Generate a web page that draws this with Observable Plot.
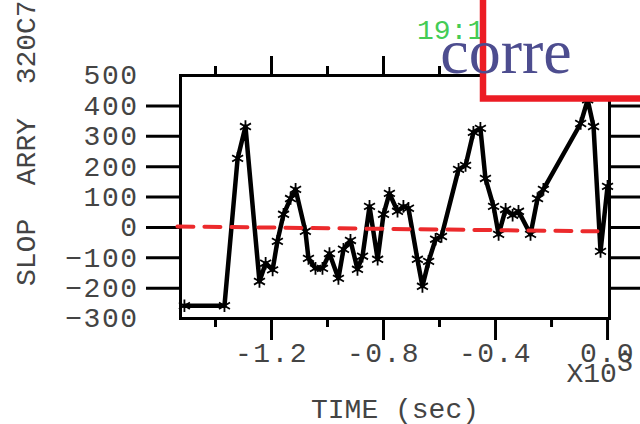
<!DOCTYPE html>
<html>
<head>
<meta charset="utf-8">
<script src="https://cdn.jsdelivr.net/npm/d3@7"></script>
<script src="https://cdn.jsdelivr.net/npm/@observablehq/plot@0.6"></script>
<style>
  html, body { margin: 0; padding: 0; background: #fff; }
  #chart svg g[aria-label$="tick label"] text { letter-spacing: 1.5px; }
</style>
</head>
<body>
<div id="chart"></div>
<script>
// Slope array samples: time before the event (seconds) and slope value
const timeSec = [
  -1511, -1368, -1321, -1293, -1243, -1221, -1196, -1179, -1157, -1132,
  -1114, -1079, -1068, -1043, -1018, -993, -961, -943, -918, -893,
  -875, -850, -821, -800, -779, -750, -729, -711, -679, -661,
  -639, -614, -593, -532, -507, -479, -454, -436, -407, -389,
  -364, -339, -318, -275, -250, -229, -96, -71, -50, -25, 0
];
const slope = [
  -258, -258, 227, 332, -178, -118, -140, -46, 43, 95,
  125, -13, -102, -135, -135, -86, -168, -72, -43, -138,
  -95, 69, -105, 43, 112, 53, 69, 63, -105, -194,
  -112, -39, -30, 191, 204, 313, 326, 161, 69, -23,
  59, 40, 53, -23, 95, 125, 342, 420, 332, -79, 135
];

// Least-squares trend drawn as the red dashed line
const fitTime = [-1536, -36];
const fitSlope = [3, -13];

// Axis ticks
const xMajorTicks = [-1200, -800, -400, 0];
const xMinorTicks = [-1400, -1000, -600, -200];
const yTickLabels = [-300, -200, -100, 0, 100, 200, 300, 400, 500];
const yTickMarks = [-200, -100, 0, 100, 200, 300, 400];

// Text
const yTitle = "SLOP  ARRY  320C7";
const xTitle = "TIME (sec)";
const xScaleNote = "X10";
const xScaleExp = "3";
const timeStamp = "19:1";
const boxText = "corre";

const points = timeSec.map((t, i) => ({t, v: slope[i]}));
const trend = fitTime.map((t, i) => ({t, v: fitSlope[i]}));

const mono = "'Liberation Mono', 'DejaVu Sans Mono', monospace";
const labelGray = "#444";
const tickStyle = {stroke: "black", strokeWidth: 3, fill: "none", label: null};

const chart = Plot.plot({
  width: 640,
  height: 424,
  marginLeft: 180,
  marginRight: 31,
  marginTop: 75,
  marginBottom: 106,
  style: {fontFamily: mono, fontSize: "28px", color: labelGray, background: "#fff", overflow: "visible"},
  x: {domain: [-1525, 7], label: null},
  y: {domain: [-300, 500], label: null},
  marks: [
    // left axis: labels, then long tick marks
    Plot.axisY({anchor: "left", ticks: yTickLabels, tickSize: 0, tickPadding: 42,
      fontSize: 28, fill: labelGray, label: null}),
    Plot.axisY({anchor: "left", ticks: yTickMarks, tickSize: 34, ...tickStyle}),
    Plot.axisY({anchor: "right", ticks: yTickMarks, tickSize: 34, ...tickStyle}),
    // bottom axis
    Plot.axisX({anchor: "bottom", ticks: xMajorTicks, tickSize: 22, tickPadding: 2,
      tickFormat: d => (d / 1000).toFixed(1), fontSize: 28, fill: labelGray,
      stroke: "black", strokeWidth: 3, label: null}),
    Plot.axisX({anchor: "bottom", ticks: xMinorTicks, tickSize: 9, ...tickStyle}),
    // top axis
    Plot.axisX({anchor: "top", ticks: xMajorTicks, tickSize: 20, ...tickStyle}),
    Plot.axisX({anchor: "top", ticks: xMinorTicks, tickSize: 10, ...tickStyle}),
    Plot.frame({stroke: "black", strokeWidth: 3}),
    // slope series with asterisk markers
    Plot.line(points, {x: "t", y: "v", stroke: "black", strokeWidth: 4.5, strokeLinejoin: "round"}),
    Plot.dot(points, {x: "t", y: "v", symbol: "asterisk", r: 6, stroke: "black", strokeWidth: 1.8}),
    // trend
    Plot.line(trend, {x: "t", y: "v", stroke: "#ec2a2c", strokeWidth: 4, strokeDasharray: "16,11"}),
    // axis titles and scale note
    Plot.text([xTitle], {frameAnchor: "bottom", textAnchor: "middle", lineAnchor: "bottom",
      dy: 99, fontSize: 28, fill: labelGray, style: "letter-spacing:1.5px"}),
    Plot.text([yTitle], {frameAnchor: "left", textAnchor: "start", lineAnchor: "bottom",
      rotate: -90, dx: -146, dy: 89, fontSize: 28, fill: labelGray}),
    Plot.text([xScaleNote], {frameAnchor: "bottom-right", textAnchor: "start", lineAnchor: "bottom",
      dx: -43, dy: 63, fontSize: 28, fill: labelGray}),
    Plot.text([xScaleExp], {frameAnchor: "bottom-right", textAnchor: "start", lineAnchor: "bottom",
      dx: 7, dy: 52, fontSize: 28, fill: labelGray}),
    Plot.text([timeStamp], {frameAnchor: "top", textAnchor: "start", lineAnchor: "bottom",
      dx: 22, dy: -37, fontSize: 28, fill: "#44cc55"})
  ]
});

// Callout box laid over the top-right corner
const svg = d3.select(chart);
const box = svg.append("g");
box.append("rect")
  .attr("x", 483).attr("y", -10)
  .attr("width", 200).attr("height", 108.5)
  .attr("fill", "#fff")
  .attr("stroke", "#ec1c24")
  .attr("stroke-width", 6.5);
box.append("text")
  .attr("x", 506).attr("y", 73)
  .attr("font-family", "'Liberation Serif', 'Times New Roman', serif")
  .attr("font-size", 64)
  .attr("fill", "#4d4d8f")
  .text(boxText);

document.getElementById("chart").appendChild(chart);
</script>
</body>
</html>
